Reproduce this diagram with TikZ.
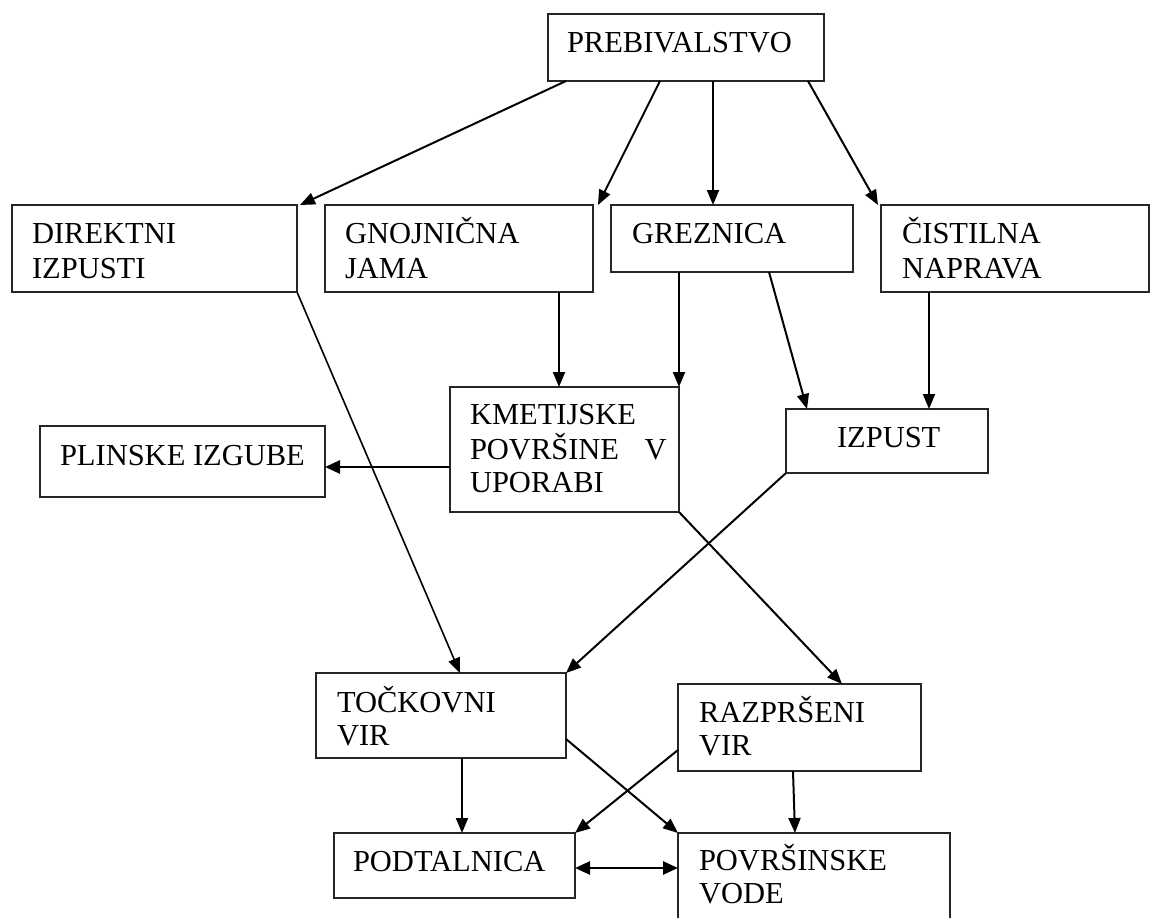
\documentclass[tikz,border=0pt]{standalone}
\usepackage{fontspec}
\setmainfont{Liberation Serif}
\usetikzlibrary{arrows.meta}
\begin{document}
\begin{tikzpicture}[x=1pt,y=-1pt,
  box/.style={draw=black!85, line width=1.3pt, rectangle, inner sep=0pt, outer sep=0pt, anchor=north west},
  txt/.style={anchor=base west, inner sep=0pt, outer sep=0pt, font=\fontsize{30.5}{34}\selectfont},
  arr/.style={line width=2pt, -{Triangle[length=15pt,width=12pt]}},
  thinarr/.style={line width=1.6pt, -{Triangle[length=15pt,width=12pt]}},
  thickarr/.style={line width=2.6pt, -{Triangle[length=15pt,width=13pt]}},
  dblarr/.style={line width=2.6pt, {Triangle[length=15pt,width=13pt]}-{Triangle[length=15pt,width=13pt]}}]
\useasboundingbox (0,0) rectangle (1152,918);
\clip (0,0) rectangle (1152,918);
% boxes
\node[box, minimum width=276pt, minimum height=67pt] (preb) at (548,14) {};
\node[box, minimum width=285pt, minimum height=87pt] (dir) at (12,205) {};
\node[box, minimum width=268pt, minimum height=87pt] (gnoj) at (325,205) {};
\node[box, minimum width=242pt, minimum height=67pt] (grez) at (611,205) {};
\node[box, minimum width=268pt, minimum height=87pt] (cist) at (881,205) {};
\node[box, minimum width=229pt, minimum height=125pt] (kmet) at (450,387) {};
\node[box, minimum width=202pt, minimum height=64pt] (izp) at (786,409) {};
\node[box, minimum width=285pt, minimum height=71pt] (plin) at (40,426) {};
\node[box, minimum width=250pt, minimum height=85pt] (toc) at (316,673) {};
\node[box, minimum width=243pt, minimum height=87pt] (raz) at (678,684) {};
\node[box, minimum width=241pt, minimum height=65pt] (pod) at (334,833) {};
\node[box, minimum width=272pt, minimum height=110pt] (pov) at (678,833) {};
% texts
\node[txt] (tpreb) at (567,52) {PREBIVALSTVO};
\node[txt] (tdira) at (32,243) {DIREKTNI};
\node[txt] (tdirb) at (32,278) {IZPUSTI};
\node[txt] (tgnoja) at (345,243) {GNOJNIČNA};
\node[txt] (tgnojb) at (345,278) {JAMA};
\node[txt] (tgrez) at (632,243) {GREZNICA};
\node[txt] (tcista) at (902,243) {ČISTILNA};
\node[txt] (tcistb) at (902,278) {NAPRAVA};
\node[txt] (tkmeta) at (470,424) {KMETIJSKE};
\node[txt] (tkmetb) at (470,459) {POVRŠINE\hspace{18pt} V};
\node[txt] (tkmetc) at (470,492) {UPORABI};
\node[txt] (tizp) at (837,447) {IZPUST};
\node[txt] (tplin) at (60,465) {PLINSKE IZGUBE};
\node[txt] (ttoca) at (337,712) {TOČKOVNI};
\node[txt] (ttocb) at (337,745) {VIR};
\node[txt] (traza) at (699,722) {RAZPRŠENI};
\node[txt] (trazb) at (699,755) {VIR};
\node[txt] (tpod) at (353,871) {PODTALNICA};
\node[txt] (tpova) at (699,870) {POVRŠINSKE};
\node[txt] (tpovb) at (699,903) {VODE};
% connectors
\draw[arr] ([xshift=18pt]preb.south west) -- ([xshift=3pt]dir.north east);
\draw[arr] ([xshift=112pt]preb.south west) -- ([xshift=5pt]gnoj.north east);
\draw[arr] ([xshift=165pt]preb.south west) -- ([xshift=102pt]grez.north west);
\draw[arr] ([xshift=-16pt]preb.south east) -- ([xshift=-3pt]cist.north west);
\draw[thinarr] (dir.south east) -- ([xshift=144pt]toc.north west);
\draw[arr] ([xshift=-34pt]gnoj.south east) -- ([xshift=109pt]kmet.north west);
\draw[arr] ([xshift=68pt]grez.south west) -- (kmet.north east);
\draw[arr] ([xshift=158pt]grez.south west) -- ([xshift=21pt]izp.north west);
\draw[arr] ([xshift=48pt]cist.south west) -- ([xshift=143pt]izp.north west);
\draw[thickarr] ([yshift=-80pt]kmet.north west) -- ([yshift=-41pt]plin.north east);
\draw[arr] (izp.south west) -- (toc.north east);
\draw[arr] (kmet.south east) -- ([xshift=164pt]raz.north west);
\draw[arr] ([xshift=146pt]toc.south west) -- ([xshift=128pt]pod.north west);
\draw[arr] ([yshift=-66pt]toc.north east) -- (pov.north west);
\draw[arr] ([yshift=-66pt]raz.north west) -- (pod.north east);
\draw[arr] ([xshift=115pt]raz.south west) -- ([xshift=117pt]pov.north west);
\draw[dblarr] ([yshift=-35pt]pod.north east) -- ([yshift=-35pt]pov.north west);
\end{tikzpicture}
\end{document}
